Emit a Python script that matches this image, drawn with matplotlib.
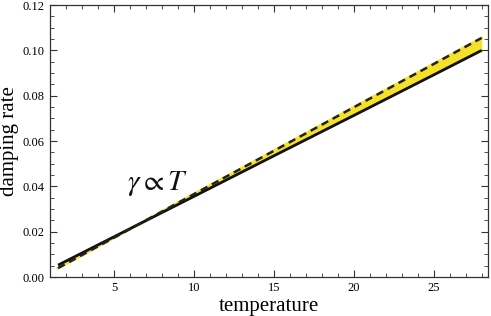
import matplotlib
matplotlib.use("Agg")
import matplotlib.pyplot as plt
from matplotlib.ticker import MultipleLocator

temperature = [1.5, 5, 10, 15, 20, 25, 28]
rate_solid = [0.0053, 0.0178, 0.0356, 0.0535, 0.0713, 0.0892, 0.1000]
rate_dashed = [0.0040, 0.0174, 0.0366, 0.0557, 0.0749, 0.0940, 0.1055]
xticks = [5, 10, 15, 20, 25]
yticks = [0.00, 0.02, 0.04, 0.06, 0.08, 0.10, 0.12]

plt.rcParams['font.family'] = ['Liberation Serif', 'DejaVu Serif']
plt.rcParams['mathtext.fontset'] = 'stix'

fig = plt.figure(figsize=(4.91, 3.16), dpi=100)
ax = fig.add_axes([0.102, 0.123, 0.892, 0.861])

ax.fill_between(temperature, rate_solid, rate_dashed, color='#f5e12a', lw=0)
ax.plot(temperature, rate_dashed, color='#f5e12a', lw=2.0)
ax.plot(temperature, rate_solid, color='#111111', lw=2.0, solid_capstyle='butt')
ax.plot(temperature, rate_dashed, color='#222222', lw=1.8, dashes=(3, 2))

ax.text(5.8, 0.0385, r'$\gamma \propto T$', fontsize=21, color='#111111')

ax.set_xlim(1, 28.4)
ax.set_ylim(0, 0.12)
ax.set_xticks(xticks)
ax.set_yticks(yticks)
ax.set_yticklabels([f'{v:.2f}' for v in yticks])
ax.xaxis.set_minor_locator(MultipleLocator(1))
ax.yaxis.set_minor_locator(MultipleLocator(0.005))
ax.tick_params(which='both', direction='in', top=True, right=True, labelsize=9, color='#333333')
ax.tick_params(which='major', length=5, width=0.8)
ax.tick_params(which='minor', length=3, width=0.6)
ax.tick_params(axis='y', pad=4)
for s in ax.spines.values():
    s.set_color('#333333')
    s.set_linewidth(0.9)

ax.set_xlabel('temperature', fontsize=15, labelpad=2)
ax.set_ylabel('damping rate', fontsize=15)
ax.yaxis.set_label_coords(-0.07, 0.5)

fig.savefig('out.png', dpi=100)
